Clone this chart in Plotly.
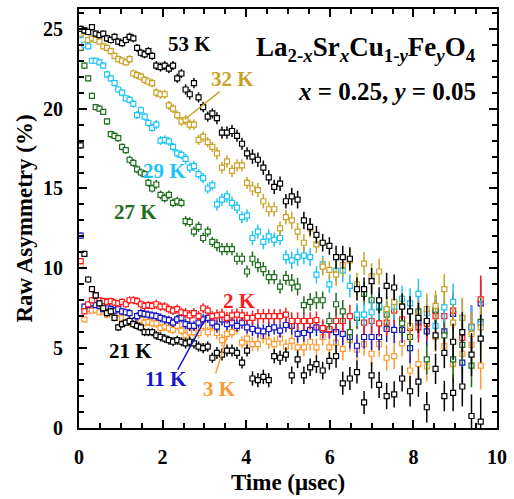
import plotly.graph_objects as go

# ---------------- data ----------------
time_us = [0.04, 0.13, 0.22, 0.31, 0.40, 0.49, 0.58, 0.67, 0.76, 0.85,
           0.94, 1.03, 1.12, 1.21, 1.30, 1.39, 1.48, 1.57, 1.66, 1.75,
           1.85, 1.95, 2.05, 2.15, 2.25, 2.35, 2.45, 2.55, 2.65, 2.75,
           2.86, 2.97, 3.08, 3.19, 3.30, 3.42, 3.54, 3.66, 3.78, 3.90,
           4.02, 4.15, 4.28, 4.41, 4.54, 4.67, 4.81, 4.95, 5.09, 5.23,
           5.38, 5.53, 5.68, 5.83, 5.99, 6.15, 6.31, 6.48, 6.65, 6.82,
           7.00, 7.18, 7.36, 7.54, 7.73, 7.92, 8.12, 8.32, 8.53, 8.74,
           8.95, 9.17, 9.39, 9.61]

err = [0.2, 0.2, 0.2, 0.2, 0.2, 0.2, 0.2,
       0.22, 0.22, 0.22, 0.22, 0.22, 0.22,
       0.25, 0.25, 0.25, 0.25, 0.25, 0.25, 0.25,
       0.28, 0.28, 0.28, 0.28, 0.28, 0.28, 0.28,
       0.32, 0.32, 0.32, 0.32, 0.32, 0.32, 0.32,
       0.38, 0.38, 0.38, 0.38, 0.38, 0.38, 0.38,
       0.45, 0.45, 0.45, 0.45, 0.45, 0.45, 0.45,
       0.55, 0.55, 0.55, 0.55, 0.55, 0.55, 0.55,
       0.72, 0.72, 0.72, 0.72, 0.72,
       0.82, 0.82, 0.82, 0.82, 0.82,
       0.95, 0.95, 0.95, 0.95, 0.95,
       1.15, 1.25, 1.35, 1.5]

a_53K = [25.0, 24.9, 24.8, 25.1, 24.7, 24.6, 24.7, 24.4, 24.3, 24.5,
         24.2, 24.1, 24.3, 24.5, 24.4, 23.8, 23.5, 23.4, 23.6, 23.3,
         22.7, 22.6, 22.7, 22.5, 22.7, 21.9, 22.2, 21.2, 20.9, 21.6,
         20.7, 20.1, 19.5, 19.7, 19.4, 18.5, 18.5, 18.6, 18.3, 17.8,
         17.2, 17.0, 16.8, 16.3, 15.7, 15.1, 15.3, 14.2, 14.5, 14.3,
         13.0, 12.6, 12.1, 11.6, 11.4, 10.7, 10.7, 10.6, 8.7, 8.7,
         9.2, 8.0, 8.9, 8.8, 7.6, 7.3, 6.9, 6.7, 5.8, 4.7,
         5.4, 6.0, 4.6, 5.6]

a_32K = [24.7, 24.85, 24.3, 24.4, 24.3, 24.2, 23.9, 23.8, 23.6, 23.3,
         23.1, 23.0, 22.9, 23.1, 22.2, 22.1, 22.0, 21.8, 21.7, 21.6,
         21.0, 20.9, 20.9, 20.2, 20.0, 19.6, 19.2, 19.3, 19.0, 19.0,
         18.05, 18.25, 17.9, 17.6, 17.2, 16.3, 16.7, 16.1, 16.45, 16.45,
         15.35, 15.0, 14.9, 14.2, 13.7, 13.7, 12.5, 13.2, 13.0, 12.3,
         11.6, 12.5, 11.5, 10.1, 9.9, 9.6, 10.2, 10.5, 9.0, 10.3,
         9.5, 9.8, 7.45, 7.9, 7.65, 6.4, 7.0, 7.45, 7.65, 8.7,
         6.6, 6.9, 5.9, 6.3]

a_29K = [24.6, 24.0, 23.9, 23.0, 23.0, 22.9, 22.7, 22.15, 21.9, 21.6,
         21.2, 21.0, 20.65, 20.55, 20.3, 19.6, 19.9, 19.5, 19.1, 18.8,
         19.0, 18.0, 18.05, 17.95, 17.6, 17.2, 17.1, 16.85, 16.3, 16.4,
         15.9, 15.65, 15.0, 15.2, 14.0, 14.3, 14.5, 14.1, 13.8, 13.2,
         13.3, 11.9, 12.3, 11.65, 12.0, 11.8, 11.9, 10.7, 10.5, 10.7,
         10.8, 10.7, 9.6, 10.25, 9.0, 9.85, 9.85, 8.9, 7.1, 7.1,
         7.25, 7.65, 7.4, 7.6, 8.1, 7.8, 8.4, 7.2, 6.4, 7.55,
         7.9, 6.9, 6.3, 6.5]

a_27K = [23.8, 22.7, 21.9, 20.8, 20.1, 20.0, 19.8, 19.2, 18.4, 18.3,
         18.15, 17.6, 17.4, 16.8, 16.6, 16.2, 16.0, 15.9, 15.35, 15.0,
         15.25, 14.6, 14.4, 14.6, 14.1, 14.2, 14.1, 12.95, 12.9, 12.3,
         12.6, 11.9, 12.3, 11.65, 11.45, 11.2, 11.2, 11.2, 10.6, 10.6,
         9.8, 10.6, 10.2, 9.95, 9.45, 9.45, 8.85, 9.4, 9.1, 8.85,
         7.7, 7.9, 8.0, 8.0, 6.7, 7.75, 7.3, 6.0, 6.9, 8.4,
         8.0, 7.55, 7.1, 7.8, 6.55, 5.7, 7.3, 4.3, 7.4, 5.8,
         4.3, 5.2, 3.9, 6.65]

a_21K = [17.7, 10.9, 9.3, 8.7, 8.3, 7.8, 7.5, 7.2, 7.3, 6.9,
         6.3, 6.5, 6.6, 6.7, 6.5, 6.4, 6.3, 6.0, 6.0, 6.0,
         5.8, 5.7, 5.6, 5.5, 5.4, 5.5, 5.4, 5.3, 5.4, 5.3,
         5.1, 5.0, 5.1, 4.4, 4.7, 4.6, 4.85, 4.85, 4.7, 4.1,
         4.85, 3.1, 3.0, 3.2, 3.0, 4.5, 4.4, 4.6, 3.3, 4.3,
         3.3, 3.8, 4.0, 3.6, 4.2, 4.5, 2.8, 3.1, 3.5, 1.6,
         3.3, 2.7, 2.0, 2.1, 3.1, 2.3, 2.9, 1.3, 3.7, 2.0,
         2.2, 2.6, 0.75, 0.4]

a_11K = [12.05, 7.6, 7.7, 7.8, 7.7, 7.65, 7.45, 7.55, 7.45, 7.35,
         7.45, 7.3, 7.25, 7.2, 6.7, 7.0, 7.2, 7.15, 7.1, 7.05,
         7.0, 6.9, 6.8, 6.75, 6.6, 6.8, 6.9, 6.5, 6.4, 6.4,
         6.6, 6.8, 6.9, 6.6, 6.35, 6.8, 6.5, 6.6, 6.4, 6.6,
         6.3, 6.2, 6.1, 6.05, 6.2, 6.3, 6.1, 6.45, 6.4, 5.9,
         5.95, 6.15, 6.3, 6.15, 6.15, 6.0, 5.9, 5.7, 5.15, 5.7,
         5.7, 5.7, 6.2, 6.15, 6.15, 5.0, 6.6, 6.05, 7.35, 6.05,
         7.15, 4.1, 6.3, 7.8]

a_3K = [10.15, 6.8, 7.45, 7.35, 7.4, 7.25, 7.3, 7.1, 7.25, 7.05,
        7.2, 6.9, 6.9, 6.6, 6.6, 6.5, 6.75, 6.6, 6.65, 6.55,
        6.55, 6.25, 6.35, 6.25, 6.15, 6.4, 6.1, 5.8, 6.0, 6.0,
        5.95, 6.4, 6.0, 6.4, 5.95, 5.5, 5.9, 6.0, 6.25, 5.35,
        5.6, 5.25, 5.25, 5.75, 5.4, 5.25, 5.6, 5.1, 5.45, 5.05,
        5.05, 5.4, 5.05, 5.7, 5.05, 5.35, 4.95, 5.5, 4.9, 5.25,
        4.65, 5.25, 4.4, 4.5, 5.3, 3.6, 4.0, 3.85, 5.7, 5.15,
        4.0, 4.65, 5.2, 3.9]

a_2K = [10.45, 7.3, 7.75, 8.0, 8.3, 8.0, 7.95, 7.9, 7.95, 7.85,
        7.8, 7.9, 7.75, 8.0, 8.0, 7.95, 7.75, 7.65, 7.7, 7.65,
        7.75, 7.6, 7.6, 7.45, 7.35, 7.45, 7.25, 7.2, 7.05, 7.2,
        7.0, 7.5, 7.35, 7.0, 7.05, 7.1, 6.9, 7.05, 7.1, 7.05,
        6.9, 6.9, 7.0, 7.0, 7.0, 7.0, 7.0, 7.1, 6.7, 6.7,
        6.7, 6.7, 6.75, 6.25, 6.2, 6.7, 6.7, 7.0, 7.0, 6.6,
        6.7, 6.55, 6.6, 7.35, 6.8, 6.25, 6.3, 6.5, 7.0, 7.0,
        7.35, 5.65, 6.35, 8.05]

x_ticks = [0, 2, 4, 6, 8, 10]
y_ticks = [0, 5, 10, 15, 20, 25]

# ---------------- figure ----------------
FONT = "Liberation Serif, Times New Roman, serif"

# (name, values, colour) -- drawing order bottom to top
series = [
    ("3 K", a_3K, "#ff9a33"),
    ("11 K", a_11K, "#1818c8"),
    ("2 K", a_2K, "#ff1a1a"),
    ("21 K", a_21K, "#000000"),
    ("27 K", a_27K, "#1e6e1e"),
    ("29 K", a_29K, "#1ec4f5"),
    ("32 K", a_32K, "#c9a227"),
    ("53 K", a_53K, "#000000"),
]

fig = go.Figure()
for name, vals, col in series:
    fig.add_trace(go.Scatter(
        x=time_us, y=vals, mode="markers", name=name,
        marker=dict(symbol="square", size=5, color="white",
                    line=dict(color=col, width=1.2)),
        error_y=dict(type="data", array=err, visible=True,
                     color=col, thickness=1.5, width=0),
        showlegend=False,
    ))

def px2x(px):
    return (px - 79) / 41.9

def px2y(py):
    return (427.7 - py) / 16.03

labels = [
    ("53 K", 190, 42, "#000000"),
    ("32 K", 233, 77, "#c9a227"),
    ("29 K", 165, 170, "#1ec4f5"),
    ("27 K", 136, 211, "#1e6e1e"),
    ("2 K", 240, 300, "#ff1a1a"),
    ("21 K", 131, 350, "#000000"),
    ("11 K", 166, 379, "#1818c8"),
    ("3 K", 220, 389, "#ff9a33"),
]
for txt, px, py, col in labels:
    fig.add_annotation(x=px2x(px), y=px2y(py), text=txt, showarrow=False,
                       xanchor="center", yanchor="middle",
                       font=dict(family=FONT, size=21, color=col, weight="bold"))

pointers = [
    (220, 90, 185, 118, "#c9a227"),
    (178, 369, 207, 316, "#1818c8"),
    (216, 373, 227, 337, "#ff9a33"),
]
for x0, y0, x1, y1, col in pointers:
    fig.add_shape(type="line", x0=px2x(x0), y0=px2y(y0), x1=px2x(x1), y1=px2y(y1),
                  line=dict(color=col, width=1.5))

fig.add_annotation(
    x=px2x(479), y=px2y(47), xanchor="right", yanchor="middle", showarrow=False,
    text="La<sub>2-<i>x</i></sub>Sr<sub><i>x</i></sub>Cu<sub>1-<i>y</i></sub>"
         "Fe<sub><i>y</i></sub>O<sub>4</sub>",
    font=dict(family=FONT, size=27, color="black", weight="bold"))
fig.add_annotation(
    x=px2x(479), y=px2y(90), xanchor="right", yanchor="middle", showarrow=False,
    text="<i>x</i> = 0.25, <i>y</i> = 0.05",
    font=dict(family=FONT, size=25, color="black", weight="bold"))

axis_common = dict(
    showline=True, linewidth=2, linecolor="black", mirror="allticks",
    ticks="inside", ticklen=8, tickwidth=2, tickcolor="black",
    showgrid=False, zeroline=False,
    tickfont=dict(family=FONT, size=20, color="black", weight="bold"),
)

fig.update_xaxes(
    range=[0, 10], tickvals=x_ticks, ticktext=[str(v) for v in x_ticks],
    minor=dict(dtick=0.5, tick0=0, ticks="inside", ticklen=5, tickwidth=1.5,
               tickcolor="black", showgrid=False),
    title=dict(text="Time (μsec)", standoff=7,
               font=dict(family=FONT, size=23, color="black", weight="bold")),
    ticklabelstandoff=10,
    **axis_common)
fig.update_yaxes(
    range=[0, 26.24], tickvals=y_ticks, ticktext=[str(v) for v in y_ticks],
    minor=dict(dtick=1, tick0=0, ticks="inside", ticklen=5, tickwidth=1.5,
               tickcolor="black", showgrid=False),
    title=dict(text="Raw Asymmetry (%)", standoff=4,
               font=dict(family=FONT, size=23, color="black", weight="bold")),
    ticklabelstandoff=10,
    **axis_common)

fig.update_layout(
    width=514, height=499,
    margin=dict(l=79, r=16, t=7, b=71),
    paper_bgcolor="white", plot_bgcolor="white",
)

fig.write_html("out.html")
